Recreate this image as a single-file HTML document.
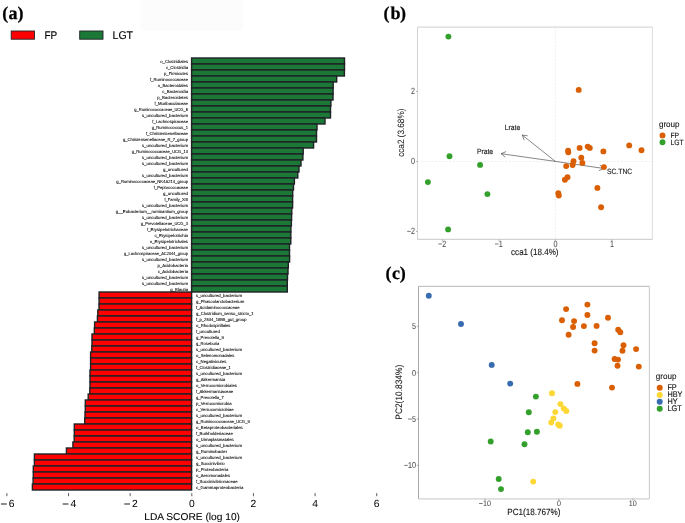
<!DOCTYPE html>
<html><head><meta charset="utf-8"><style>
html,body{margin:0;padding:0;background:#fff;width:685px;height:523px;overflow:hidden}
svg{display:block;will-change:transform}
text{font-family:"Liberation Sans",sans-serif;text-rendering:geometricPrecision}
.lbl{font-family:"Liberation Serif",serif;text-rendering:geometricPrecision;font-weight:bold;font-size:18px;stroke:#000;stroke-width:0.25px}
</style></head><body>
<svg width="685" height="523" viewBox="0 0 685 523" font-family="Liberation Sans, sans-serif">
<rect width="685" height="523" fill="#fff"/>
<rect x="140.4" y="0" width="102.6" height="30.4" fill="#fcfcfc"/>
<text x="2.2 8.4 17.6" y="18.8" class="lbl">(a)</text>
<rect x="11.2" y="31" width="23.3" height="8.2" fill="#ff0000" stroke="#1f2325" stroke-width="0.9"/>
<text x="44.5" y="39.3" font-size="11.2" stroke="#000" stroke-width="0.15" textLength="12.72" lengthAdjust="spacingAndGlyphs">FP</text>
<rect x="79.7" y="31" width="23.3" height="8.2" fill="#1b7837" stroke="#1f2325" stroke-width="0.9"/>
<text x="112.5" y="39.3" font-size="11.2" stroke="#000" stroke-width="0.15" textLength="20.60" lengthAdjust="spacingAndGlyphs">LGT</text>
<g stroke="#1f2325" stroke-width="1.4"><rect x="191.6" y="58.00" width="152.90" height="6.0" fill="#1b7837"/><rect x="191.6" y="64.00" width="152.90" height="6.0" fill="#1b7837"/><rect x="191.6" y="70.00" width="152.80" height="6.0" fill="#1b7837"/><rect x="191.6" y="76.00" width="145.10" height="6.0" fill="#1b7837"/><rect x="191.6" y="82.00" width="141.60" height="6.0" fill="#1b7837"/><rect x="191.6" y="88.00" width="141.50" height="6.0" fill="#1b7837"/><rect x="191.6" y="94.00" width="141.40" height="6.0" fill="#1b7837"/><rect x="191.6" y="100.00" width="139.30" height="6.0" fill="#1b7837"/><rect x="191.6" y="106.00" width="138.90" height="6.0" fill="#1b7837"/><rect x="191.6" y="112.00" width="138.90" height="6.0" fill="#1b7837"/><rect x="191.6" y="118.00" width="133.40" height="6.0" fill="#1b7837"/><rect x="191.6" y="124.00" width="125.40" height="6.0" fill="#1b7837"/><rect x="191.6" y="130.00" width="124.90" height="6.0" fill="#1b7837"/><rect x="191.6" y="136.00" width="124.90" height="6.0" fill="#1b7837"/><rect x="191.6" y="142.00" width="122.00" height="6.0" fill="#1b7837"/><rect x="191.6" y="148.00" width="111.60" height="6.0" fill="#1b7837"/><rect x="191.6" y="154.00" width="111.30" height="6.0" fill="#1b7837"/><rect x="191.6" y="160.00" width="109.40" height="6.0" fill="#1b7837"/><rect x="191.6" y="166.00" width="107.40" height="6.0" fill="#1b7837"/><rect x="191.6" y="172.00" width="106.20" height="6.0" fill="#1b7837"/><rect x="191.6" y="178.00" width="102.80" height="6.0" fill="#1b7837"/><rect x="191.6" y="184.00" width="101.90" height="6.0" fill="#1b7837"/><rect x="191.6" y="190.00" width="101.10" height="6.0" fill="#1b7837"/><rect x="191.6" y="196.00" width="101.00" height="6.0" fill="#1b7837"/><rect x="191.6" y="202.00" width="101.00" height="6.0" fill="#1b7837"/><rect x="191.6" y="208.00" width="100.20" height="6.0" fill="#1b7837"/><rect x="191.6" y="214.00" width="100.00" height="6.0" fill="#1b7837"/><rect x="191.6" y="220.00" width="99.80" height="6.0" fill="#1b7837"/><rect x="191.6" y="226.00" width="99.30" height="6.0" fill="#1b7837"/><rect x="191.6" y="232.00" width="99.20" height="6.0" fill="#1b7837"/><rect x="191.6" y="238.00" width="99.20" height="6.0" fill="#1b7837"/><rect x="191.6" y="244.00" width="97.90" height="6.0" fill="#1b7837"/><rect x="191.6" y="250.00" width="97.90" height="6.0" fill="#1b7837"/><rect x="191.6" y="256.00" width="98.00" height="6.0" fill="#1b7837"/><rect x="191.6" y="262.00" width="96.70" height="6.0" fill="#1b7837"/><rect x="191.6" y="268.00" width="96.40" height="6.0" fill="#1b7837"/><rect x="191.6" y="274.00" width="95.90" height="6.0" fill="#1b7837"/><rect x="191.6" y="280.00" width="95.70" height="6.0" fill="#1b7837"/><rect x="191.6" y="286.00" width="95.70" height="6.0" fill="#1b7837"/><rect x="99.10" y="292.00" width="92.50" height="6.0" fill="#ff0000"/><rect x="99.10" y="298.00" width="92.50" height="6.0" fill="#ff0000"/><rect x="99.00" y="304.00" width="92.60" height="6.0" fill="#ff0000"/><rect x="97.80" y="310.00" width="93.80" height="6.0" fill="#ff0000"/><rect x="97.40" y="316.00" width="94.20" height="6.0" fill="#ff0000"/><rect x="94.60" y="322.00" width="97.00" height="6.0" fill="#ff0000"/><rect x="94.30" y="328.00" width="97.30" height="6.0" fill="#ff0000"/><rect x="92.00" y="334.00" width="99.60" height="6.0" fill="#ff0000"/><rect x="92.00" y="340.00" width="99.60" height="6.0" fill="#ff0000"/><rect x="91.80" y="346.00" width="99.80" height="6.0" fill="#ff0000"/><rect x="90.60" y="352.00" width="101.00" height="6.0" fill="#ff0000"/><rect x="90.60" y="358.00" width="101.00" height="6.0" fill="#ff0000"/><rect x="90.60" y="364.00" width="101.00" height="6.0" fill="#ff0000"/><rect x="90.00" y="370.00" width="101.60" height="6.0" fill="#ff0000"/><rect x="90.00" y="376.00" width="101.60" height="6.0" fill="#ff0000"/><rect x="90.00" y="382.00" width="101.60" height="6.0" fill="#ff0000"/><rect x="89.80" y="388.00" width="101.80" height="6.0" fill="#ff0000"/><rect x="88.20" y="394.00" width="103.40" height="6.0" fill="#ff0000"/><rect x="85.30" y="400.00" width="106.30" height="6.0" fill="#ff0000"/><rect x="85.30" y="406.00" width="106.30" height="6.0" fill="#ff0000"/><rect x="85.00" y="412.00" width="106.60" height="6.0" fill="#ff0000"/><rect x="84.70" y="418.00" width="106.90" height="6.0" fill="#ff0000"/><rect x="74.30" y="424.00" width="117.30" height="6.0" fill="#ff0000"/><rect x="74.30" y="430.00" width="117.30" height="6.0" fill="#ff0000"/><rect x="74.20" y="436.00" width="117.40" height="6.0" fill="#ff0000"/><rect x="72.90" y="442.00" width="118.70" height="6.0" fill="#ff0000"/><rect x="66.40" y="448.00" width="125.20" height="6.0" fill="#ff0000"/><rect x="34.40" y="454.00" width="157.20" height="6.0" fill="#ff0000"/><rect x="34.40" y="460.00" width="157.20" height="6.0" fill="#ff0000"/><rect x="33.30" y="466.00" width="158.30" height="6.0" fill="#ff0000"/><rect x="33.30" y="472.00" width="158.30" height="6.0" fill="#ff0000"/><rect x="33.10" y="478.00" width="158.50" height="6.0" fill="#ff0000"/><rect x="32.40" y="484.00" width="159.20" height="6.0" fill="#ff0000"/></g>
<g font-size="4.3" stroke="#000" stroke-width="0.08"><text x="188" y="63.00" text-anchor="end" textLength="27.73" lengthAdjust="spacingAndGlyphs">o_Clostridiales</text><text x="188" y="69.00" text-anchor="end" textLength="22.08" lengthAdjust="spacingAndGlyphs">c_Clostridia</text><text x="188" y="75.00" text-anchor="end" textLength="24.02" lengthAdjust="spacingAndGlyphs">p_Firmicutes</text><text x="188" y="81.00" text-anchor="end" textLength="37.92" lengthAdjust="spacingAndGlyphs">f_Ruminococcaceae</text><text x="188" y="87.00" text-anchor="end" textLength="30.29" lengthAdjust="spacingAndGlyphs">o_Bacteroidales</text><text x="188" y="93.00" text-anchor="end" textLength="25.70" lengthAdjust="spacingAndGlyphs">c_Bacteroidia</text><text x="188" y="99.00" text-anchor="end" textLength="30.82" lengthAdjust="spacingAndGlyphs">p_Bacteroidetes</text><text x="188" y="105.00" text-anchor="end" textLength="33.52" lengthAdjust="spacingAndGlyphs">f_Muribaculaceae</text><text x="188" y="111.00" text-anchor="end" textLength="53.72" lengthAdjust="spacingAndGlyphs">g_Ruminococcaceae_UCG_5</text><text x="188" y="117.00" text-anchor="end" textLength="46.02" lengthAdjust="spacingAndGlyphs">s_uncultured_bacterium</text><text x="188" y="123.00" text-anchor="end" textLength="35.63" lengthAdjust="spacingAndGlyphs">f_Lachnospiraceae</text><text x="188" y="129.00" text-anchor="end" textLength="36.26" lengthAdjust="spacingAndGlyphs">g_Ruminococcus_1</text><text x="188" y="135.00" text-anchor="end" textLength="42.06" lengthAdjust="spacingAndGlyphs">f_Christensenellaceae</text><text x="188" y="141.00" text-anchor="end" textLength="65.11" lengthAdjust="spacingAndGlyphs">g_Christensenellaceae_R_7_group</text><text x="188" y="147.00" text-anchor="end" textLength="46.02" lengthAdjust="spacingAndGlyphs">s_uncultured_bacterium</text><text x="188" y="153.00" text-anchor="end" textLength="56.15" lengthAdjust="spacingAndGlyphs">g_Ruminococcaceae_UCG_13</text><text x="188" y="159.00" text-anchor="end" textLength="46.02" lengthAdjust="spacingAndGlyphs">s_uncultured_bacterium</text><text x="188" y="165.00" text-anchor="end" textLength="46.02" lengthAdjust="spacingAndGlyphs">s_uncultured_bacterium</text><text x="188" y="171.00" text-anchor="end" textLength="25.01" lengthAdjust="spacingAndGlyphs">g_uncultured</text><text x="188" y="177.00" text-anchor="end" textLength="46.02" lengthAdjust="spacingAndGlyphs">s_uncultured_bacterium</text><text x="188" y="183.00" text-anchor="end" textLength="71.70" lengthAdjust="spacingAndGlyphs">g_Ruminococcaceae_NK4A214_group</text><text x="188" y="189.00" text-anchor="end" textLength="34.24" lengthAdjust="spacingAndGlyphs">f_Peptococcaceae</text><text x="188" y="195.00" text-anchor="end" textLength="25.01" lengthAdjust="spacingAndGlyphs">g_uncultured</text><text x="188" y="201.00" text-anchor="end" textLength="23.52" lengthAdjust="spacingAndGlyphs">f_Family_XIII</text><text x="188" y="207.00" text-anchor="end" textLength="46.02" lengthAdjust="spacingAndGlyphs">s_uncultured_bacterium</text><text x="188" y="213.00" text-anchor="end" textLength="72.24" lengthAdjust="spacingAndGlyphs">g__Eubacterium__ruminantium_group</text><text x="188" y="219.00" text-anchor="end" textLength="46.02" lengthAdjust="spacingAndGlyphs">s_uncultured_bacterium</text><text x="188" y="225.00" text-anchor="end" textLength="47.26" lengthAdjust="spacingAndGlyphs">g_Prevotellaceae_UCG_3</text><text x="188" y="231.00" text-anchor="end" textLength="40.97" lengthAdjust="spacingAndGlyphs">f_Erysipelotrichaceae</text><text x="188" y="237.00" text-anchor="end" textLength="33.62" lengthAdjust="spacingAndGlyphs">c_Erysipelotrichia</text><text x="188" y="243.00" text-anchor="end" textLength="38.21" lengthAdjust="spacingAndGlyphs">o_Erysipelotrichales</text><text x="188" y="249.00" text-anchor="end" textLength="46.02" lengthAdjust="spacingAndGlyphs">s_uncultured_bacterium</text><text x="188" y="255.00" text-anchor="end" textLength="63.90" lengthAdjust="spacingAndGlyphs">g_Lachnospiraceae_AC2044_group</text><text x="188" y="261.00" text-anchor="end" textLength="46.02" lengthAdjust="spacingAndGlyphs">s_uncultured_bacterium</text><text x="188" y="267.00" text-anchor="end" textLength="30.57" lengthAdjust="spacingAndGlyphs">p_Acidobacteria</text><text x="188" y="273.00" text-anchor="end" textLength="30.25" lengthAdjust="spacingAndGlyphs">c_Acidobacteria</text><text x="188" y="279.00" text-anchor="end" textLength="46.02" lengthAdjust="spacingAndGlyphs">s_uncultured_bacterium</text><text x="188" y="285.00" text-anchor="end" textLength="46.02" lengthAdjust="spacingAndGlyphs">s_uncultured_bacterium</text><text x="188" y="291.00" text-anchor="end" textLength="17.73" lengthAdjust="spacingAndGlyphs">g_Blautia</text><text x="196" y="297.00" textLength="46.02" lengthAdjust="spacingAndGlyphs">s_uncultured_bacterium</text><text x="196" y="303.00" textLength="48.27" lengthAdjust="spacingAndGlyphs">g_Phascolarctobacterium</text><text x="196" y="309.00" textLength="43.50" lengthAdjust="spacingAndGlyphs">f_Acidaminococcaceae</text><text x="196" y="315.00" textLength="57.69" lengthAdjust="spacingAndGlyphs">g_Clostridium_sensu_stricto_1</text><text x="196" y="321.00" textLength="50.52" lengthAdjust="spacingAndGlyphs">f_p_2534_18B5_gut_group</text><text x="196" y="327.00" textLength="34.49" lengthAdjust="spacingAndGlyphs">o_Rhodospirillales</text><text x="196" y="333.00" textLength="23.92" lengthAdjust="spacingAndGlyphs">f_uncultured</text><text x="196" y="339.00" textLength="27.73" lengthAdjust="spacingAndGlyphs">g_Prevotella_9</text><text x="196" y="345.00" textLength="23.38" lengthAdjust="spacingAndGlyphs">g_Roseburia</text><text x="196" y="351.00" textLength="46.02" lengthAdjust="spacingAndGlyphs">s_uncultured_bacterium</text><text x="196" y="357.00" textLength="38.28" lengthAdjust="spacingAndGlyphs">o_Selenomonadales</text><text x="196" y="363.00" textLength="30.30" lengthAdjust="spacingAndGlyphs">c_Negativicutes</text><text x="196" y="369.00" textLength="34.84" lengthAdjust="spacingAndGlyphs">f_Clostridiaceae_1</text><text x="196" y="375.00" textLength="46.02" lengthAdjust="spacingAndGlyphs">s_uncultured_bacterium</text><text x="196" y="381.00" textLength="29.04" lengthAdjust="spacingAndGlyphs">g_Akkermansia</text><text x="196" y="387.00" textLength="40.89" lengthAdjust="spacingAndGlyphs">o_Verrucomicrobiales</text><text x="196" y="393.00" textLength="37.12" lengthAdjust="spacingAndGlyphs">f_Akkermansiaceae</text><text x="196" y="399.00" textLength="27.73" lengthAdjust="spacingAndGlyphs">g_Prevotella_7</text><text x="196" y="405.00" textLength="35.56" lengthAdjust="spacingAndGlyphs">p_Verrucomicrobia</text><text x="196" y="411.00" textLength="37.59" lengthAdjust="spacingAndGlyphs">c_Verrucomicrobiae</text><text x="196" y="417.00" textLength="46.02" lengthAdjust="spacingAndGlyphs">s_uncultured_bacterium</text><text x="196" y="423.00" textLength="53.72" lengthAdjust="spacingAndGlyphs">g_Ruminococcaceae_UCG_9</text><text x="196" y="429.00" textLength="46.70" lengthAdjust="spacingAndGlyphs">o_Betaproteobacteriales</text><text x="196" y="435.00" textLength="36.89" lengthAdjust="spacingAndGlyphs">f_Burkholderiaceae</text><text x="196" y="441.00" textLength="37.72" lengthAdjust="spacingAndGlyphs">o_Izimaplasmatales</text><text x="196" y="447.00" textLength="46.02" lengthAdjust="spacingAndGlyphs">s_uncultured_bacterium</text><text x="196" y="453.00" textLength="31.15" lengthAdjust="spacingAndGlyphs">g_Ruminobacter</text><text x="196" y="459.00" textLength="46.02" lengthAdjust="spacingAndGlyphs">s_uncultured_bacterium</text><text x="196" y="465.00" textLength="28.72" lengthAdjust="spacingAndGlyphs">g_Succinivibrio</text><text x="196" y="471.00" textLength="32.35" lengthAdjust="spacingAndGlyphs">p_Proteobacteria</text><text x="196" y="477.00" textLength="34.04" lengthAdjust="spacingAndGlyphs">o_Aeromonadales</text><text x="196" y="483.00" textLength="41.57" lengthAdjust="spacingAndGlyphs">f_Succinivibrionaceae</text><text x="196" y="489.00" textLength="47.34" lengthAdjust="spacingAndGlyphs">c_Gammaproteobacteria</text></g>
<g stroke="#333" stroke-width="0.8"><line x1="6.88" y1="493.1" x2="6.88" y2="496.2"/><line x1="68.52" y1="493.1" x2="68.52" y2="496.2"/><line x1="130.16" y1="493.1" x2="130.16" y2="496.2"/><line x1="191.80" y1="493.1" x2="191.80" y2="496.2"/><line x1="253.44" y1="493.1" x2="253.44" y2="496.2"/><line x1="315.08" y1="493.1" x2="315.08" y2="496.2"/><line x1="376.72" y1="493.1" x2="376.72" y2="496.2"/></g>
<g stroke="#111" stroke-width="0.95"><line x1="0.98" y1="504.0" x2="6.78" y2="504.0"/><line x1="62.62" y1="504.0" x2="68.42" y2="504.0"/><line x1="124.26" y1="504.0" x2="130.06" y2="504.0"/></g>
<g font-size="10.3"><text x="8.78" y="507.2">6</text><text x="70.42" y="507.2">4</text><text x="132.06" y="507.2">2</text><text x="191.80" y="507.2" text-anchor="middle">0</text><text x="253.44" y="507.2" text-anchor="middle">2</text><text x="315.08" y="507.2" text-anchor="middle">4</text><text x="376.72" y="507.2" text-anchor="middle">6</text></g>
<text x="192.1" y="519.5" font-size="9.9" stroke="#000" stroke-width="0.08" text-anchor="middle" textLength="95.73" lengthAdjust="spacingAndGlyphs">LDA SCORE (log 10)</text>
<text x="383.6 390.4 400.1" y="18.8" class="lbl">(b)</text>
<line x1="555.40" y1="27.2" x2="555.40" y2="239.4" stroke="#e6e6e6" stroke-width="0.6" stroke-dasharray="2.2 1.3"/>
<line x1="417.5" y1="161.50" x2="652.4" y2="161.50" stroke="#e6e6e6" stroke-width="0.6" stroke-dasharray="2.2 1.3"/>
<line x1="417.5" y1="27.2" x2="652.4" y2="27.2" stroke="#d8d8d8" stroke-width="1.3"/>
<line x1="417.5" y1="239.4" x2="652.4" y2="239.4" stroke="#d2d2d2" stroke-width="1.1"/>
<line x1="417.5" y1="27.2" x2="417.5" y2="239.4" stroke="#d2d2d2" stroke-width="1.05"/>
<line x1="652.4" y1="27.2" x2="652.4" y2="239.4" stroke="#e0e0e0" stroke-width="1.1"/>
<g stroke="#aaaaaa" stroke-width="0.9"><line x1="442.30" y1="239.4" x2="442.30" y2="241.0"/><line x1="498.85" y1="239.4" x2="498.85" y2="241.0"/><line x1="555.40" y1="239.4" x2="555.40" y2="241.0"/><line x1="611.95" y1="239.4" x2="611.95" y2="241.0"/><line x1="415.9" y1="231.50" x2="417.5" y2="231.50"/><line x1="415.9" y1="161.50" x2="417.5" y2="161.50"/><line x1="415.9" y1="91.50" x2="417.5" y2="91.50"/></g>
<g font-size="8" fill="#4d4d4d"><line x1="438.36" y1="243.95" x2="441.96" y2="243.95" stroke="#4d4d4d" stroke-width="0.75"/><text transform="translate(442.21 246.7) scale(1 1.26)" font-size="7.2" fill="#4d4d4d" stroke="#4d4d4d" stroke-width="0.05">2</text><line x1="494.91" y1="243.95" x2="498.51" y2="243.95" stroke="#4d4d4d" stroke-width="0.75"/><text transform="translate(498.76 246.7) scale(1 1.26)" font-size="7.2" fill="#4d4d4d" stroke="#4d4d4d" stroke-width="0.05">1</text><text transform="translate(553.38 246.7) scale(1 1.26)" font-size="7.2" fill="#4d4d4d" stroke="#4d4d4d" stroke-width="0.05">0</text><text transform="translate(609.93 246.7) scale(1 1.26)" font-size="7.2" fill="#4d4d4d" stroke="#4d4d4d" stroke-width="0.05">1</text><line x1="407.22" y1="231.35" x2="410.82" y2="231.35" stroke="#4d4d4d" stroke-width="0.75"/><text transform="translate(411.07 234.1) scale(1 1.26)" font-size="7.2" fill="#4d4d4d" stroke="#4d4d4d" stroke-width="0.05">2</text><text transform="translate(411.07 164.1) scale(1 1.26)" font-size="7.2" fill="#4d4d4d" stroke="#4d4d4d" stroke-width="0.05">0</text><text transform="translate(411.07 94.1) scale(1 1.26)" font-size="7.2" fill="#4d4d4d" stroke="#4d4d4d" stroke-width="0.05">2</text></g>
<text transform="translate(534.8 255.1) scale(1 1.12)" font-size="8.05" fill="#111" stroke="#111" stroke-width="0.1" text-anchor="middle">cca1 (18.4%)</text>
<text transform="translate(404.3 132.7) rotate(-90) scale(1 1.12)" font-size="8.2" fill="#111" stroke="#111" stroke-width="0.04" text-anchor="middle">cca2 (3.68%)</text>
<g stroke="#222" stroke-width="0.55"><line x1="555.40" y1="161.40" x2="522.30" y2="135.10"/><polyline points="524.19,140.16 522.30,135.10 527.65,135.80" fill="none"/><line x1="555.40" y1="161.40" x2="501.10" y2="153.70"/><polyline points="505.29,157.10 501.10,153.70 506.07,151.60" fill="none"/><line x1="555.40" y1="161.40" x2="604.00" y2="168.50"/><polyline points="599.82,165.08 604.00,168.50 599.02,170.58" fill="none"/></g>
<text transform="translate(504.7 130.2) scale(1 1.12)" font-size="6.8" fill="#1a1a1a" stroke="#1a1a1a" stroke-width="0.12">Lrate</text><text transform="translate(476.9 154.2) scale(1 1.12)" font-size="6.8" fill="#1a1a1a" stroke="#1a1a1a" stroke-width="0.12">Prate</text><text transform="translate(606.9 174.0) scale(1 1.12)" font-size="6.8" fill="#1a1a1a" stroke="#1a1a1a" stroke-width="0.12">SC.TNC</text>
<g fill="#33a02c"><circle cx="448.4" cy="36.6" r="2.95"/><circle cx="449.5" cy="156.3" r="2.95"/><circle cx="480.1" cy="164.9" r="2.95"/><circle cx="427.9" cy="182.1" r="2.95"/><circle cx="487.4" cy="194.1" r="2.95"/><circle cx="448.1" cy="229.4" r="2.95"/></g>
<g fill="#d95f02"><circle cx="568.1" cy="150.7" r="2.95"/><circle cx="568.3" cy="152.3" r="2.95"/><circle cx="579.6" cy="147.9" r="2.95"/><circle cx="587.7" cy="146.6" r="2.95"/><circle cx="589.8" cy="147.9" r="2.95"/><circle cx="603.4" cy="151.4" r="2.95"/><circle cx="581.3" cy="157.8" r="2.95"/><circle cx="582.4" cy="162.9" r="2.95"/><circle cx="573.5" cy="161.3" r="2.95"/><circle cx="572.6" cy="165.0" r="2.95"/><circle cx="566.2" cy="166.1" r="2.95"/><circle cx="603.9" cy="167.1" r="2.95"/><circle cx="567.5" cy="177.2" r="2.95"/><circle cx="564.9" cy="179.8" r="2.95"/><circle cx="597.4" cy="187.9" r="2.95"/><circle cx="558.3" cy="193.3" r="2.95"/><circle cx="558.8" cy="195.5" r="2.95"/><circle cx="601.1" cy="207.2" r="2.95"/><circle cx="629.2" cy="145.4" r="2.95"/><circle cx="641.5" cy="150.2" r="2.95"/><circle cx="578.7" cy="89.9" r="2.95"/></g>
<text transform="translate(658.9 127.3) scale(1 1.05)" font-size="8.1" fill="#111" stroke="#111" stroke-width="0.08">group</text>
<circle cx="662.5" cy="135.4" r="2.95" fill="#d95f02"/><circle cx="662.5" cy="142.3" r="2.95" fill="#33a02c"/>
<text transform="translate(670.4 138.0) scale(1 1.12)" font-size="6.8" fill="#111" stroke="#111" stroke-width="0.12">FP</text><text transform="translate(670.4 144.9) scale(1 1.12)" font-size="6.8" fill="#111" stroke="#111" stroke-width="0.12">LGT</text>
<text x="385.6 392.1 399.8" y="278.8" class="lbl">(c)</text>
<line x1="418.5" y1="286.4" x2="649.4" y2="286.4" stroke="#c4c4c4" stroke-width="1.2"/>
<line x1="418.5" y1="498.8" x2="649.4" y2="498.8" stroke="#dedede" stroke-width="1.8"/>
<line x1="418.5" y1="286.4" x2="418.5" y2="498.8" stroke="#a8a8a8" stroke-width="1.05"/>
<line x1="649.4" y1="286.4" x2="649.4" y2="498.8" stroke="#cdcdcd" stroke-width="1.1"/>
<g stroke="#999999" stroke-width="0.9"><line x1="485.00" y1="498.8" x2="485.00" y2="500.40000000000003"/><line x1="558.90" y1="498.8" x2="558.90" y2="500.40000000000003"/><line x1="632.80" y1="498.8" x2="632.80" y2="500.40000000000003"/><line x1="416.9" y1="326.25" x2="418.5" y2="326.25"/><line x1="416.9" y1="372.60" x2="418.5" y2="372.60"/><line x1="416.9" y1="418.95" x2="418.5" y2="418.95"/><line x1="416.9" y1="465.30" x2="418.5" y2="465.30"/></g>
<g font-size="8" fill="#4d4d4d"><line x1="479.08" y1="503.50" x2="482.68" y2="503.50" stroke="#4d4d4d" stroke-width="0.75"/><text transform="translate(482.93 506.3) scale(1 1.1)" font-size="7.2" fill="#4d4d4d" stroke="#4d4d4d" stroke-width="0.05">10</text><text transform="translate(556.88 506.3) scale(1 1.1)" font-size="7.2" fill="#4d4d4d" stroke="#4d4d4d" stroke-width="0.05">0</text><text transform="translate(628.80 506.3) scale(1 1.1)" font-size="7.2" fill="#4d4d4d" stroke="#4d4d4d" stroke-width="0.05">10</text><text transform="translate(411.97 329.35) scale(1 1.18)" font-size="7.2" fill="#4d4d4d" stroke="#4d4d4d" stroke-width="0.05">5</text><text transform="translate(411.97 375.7) scale(1 1.18)" font-size="7.2" fill="#4d4d4d" stroke="#4d4d4d" stroke-width="0.05">0</text><line x1="408.12" y1="419.05" x2="411.72" y2="419.05" stroke="#4d4d4d" stroke-width="0.75"/><text transform="translate(411.97 422.05) scale(1 1.18)" font-size="7.2" fill="#4d4d4d" stroke="#4d4d4d" stroke-width="0.05">5</text><line x1="404.16" y1="465.40" x2="407.76" y2="465.40" stroke="#4d4d4d" stroke-width="0.75"/><text transform="translate(408.01 468.4) scale(1 1.18)" font-size="7.2" fill="#4d4d4d" stroke="#4d4d4d" stroke-width="0.05">10</text></g>
<text transform="translate(533.9 515.3) scale(1 1.12)" font-size="8.15" fill="#111" stroke="#111" stroke-width="0.1" text-anchor="middle">PC1(18.767%)</text>
<text transform="translate(402.3 392.2) rotate(-90) scale(1 1.12)" font-size="8.4" fill="#111" stroke="#111" stroke-width="0.04" text-anchor="middle">PC2(10.834%)</text>
<g fill="#386cb0"><circle cx="428.8" cy="295.7" r="2.95"/><circle cx="461.0" cy="324.0" r="2.95"/><circle cx="491.7" cy="364.9" r="2.95"/><circle cx="510.2" cy="383.6" r="2.95"/></g>
<g fill="#d95f02"><circle cx="566.1" cy="309.1" r="2.95"/><circle cx="587.4" cy="304.6" r="2.95"/><circle cx="587.4" cy="315.0" r="2.95"/><circle cx="562.0" cy="320.2" r="2.95"/><circle cx="574.1" cy="321.1" r="2.95"/><circle cx="573.1" cy="327.0" r="2.95"/><circle cx="583.9" cy="326.1" r="2.95"/><circle cx="596.6" cy="325.9" r="2.95"/><circle cx="608.0" cy="317.8" r="2.95"/><circle cx="568.6" cy="334.8" r="2.95"/><circle cx="618.2" cy="329.8" r="2.95"/><circle cx="620.3" cy="332.2" r="2.95"/><circle cx="594.6" cy="343.2" r="2.95"/><circle cx="594.6" cy="350.6" r="2.95"/><circle cx="623.5" cy="345.3" r="2.95"/><circle cx="622.5" cy="350.8" r="2.95"/><circle cx="636.1" cy="349.1" r="2.95"/><circle cx="614.6" cy="359.0" r="2.95"/><circle cx="618.0" cy="359.6" r="2.95"/><circle cx="617.5" cy="365.8" r="2.95"/><circle cx="638.8" cy="366.6" r="2.95"/><circle cx="577.4" cy="383.9" r="2.95"/><circle cx="612.0" cy="387.6" r="2.95"/></g>
<g fill="#fdd835"><circle cx="552.0" cy="393.3" r="2.95"/><circle cx="560.4" cy="404.1" r="2.95"/><circle cx="563.7" cy="408.4" r="2.95"/><circle cx="566.3" cy="411.0" r="2.95"/><circle cx="555.3" cy="412.1" r="2.95"/><circle cx="553.4" cy="418.5" r="2.95"/><circle cx="551.2" cy="422.6" r="2.95"/><circle cx="558.2" cy="424.4" r="2.95"/><circle cx="559.8" cy="425.7" r="2.95"/><circle cx="533.2" cy="481.6" r="2.95"/></g>
<g fill="#33a02c"><circle cx="535.9" cy="396.6" r="2.95"/><circle cx="528.8" cy="412.3" r="2.95"/><circle cx="527.8" cy="432.2" r="2.95"/><circle cx="536.9" cy="431.8" r="2.95"/><circle cx="490.7" cy="441.5" r="2.95"/><circle cx="524.5" cy="444.3" r="2.95"/><circle cx="498.7" cy="479.0" r="2.95"/><circle cx="501.0" cy="489.1" r="2.95"/></g>
<text transform="translate(655.8 379.3) scale(1 1.05)" font-size="8.1" fill="#111" stroke="#111" stroke-width="0.08">group</text>
<circle cx="659.7" cy="387.8" r="3.0" fill="#d95f02"/><text transform="translate(667.4 390.2) scale(1 1.12)" font-size="7.3" fill="#111" stroke="#111" stroke-width="0.12">FP</text>
<circle cx="659.7" cy="394.9" r="3.0" fill="#fdd835"/><text transform="translate(667.4 397.3) scale(1 1.12)" font-size="7.3" fill="#111" stroke="#111" stroke-width="0.12">HBY</text>
<circle cx="659.7" cy="401.8" r="3.0" fill="#386cb0"/><text transform="translate(667.4 404.2) scale(1 1.12)" font-size="7.3" fill="#111" stroke="#111" stroke-width="0.12">HY</text>
<circle cx="659.7" cy="408.8" r="3.0" fill="#33a02c"/><text transform="translate(667.4 411.2) scale(1 1.12)" font-size="7.3" fill="#111" stroke="#111" stroke-width="0.12">LGT</text>
</svg>
</body></html>
